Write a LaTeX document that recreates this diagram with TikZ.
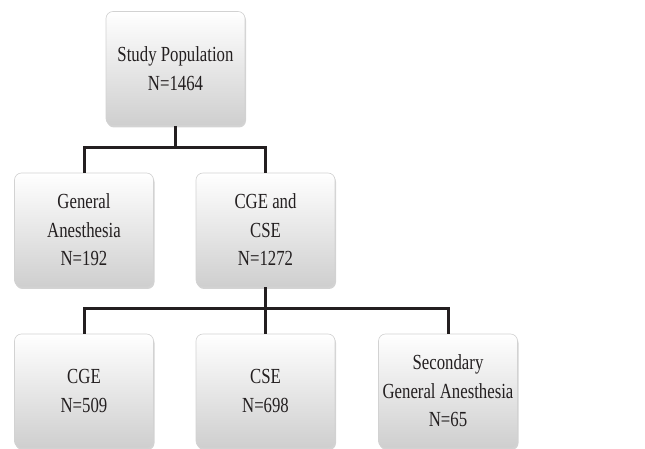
\documentclass[tikz,border=0pt]{standalone}
\usepackage{fontspec}
\setmainfont[FakeStretch=0.78]{Liberation Serif}
\usetikzlibrary{shadows}
\definecolor{linedark}{HTML}{231F20}
\tikzset{
  box/.style={rounded corners=7pt, draw=gray!35, line width=0.6pt,
    top color=white, bottom color=gray!38, minimum width=139pt, minimum height=114pt,
    align=center, text=linedark, font=\fontsize{21.5pt}{28.5pt}\selectfont, inner sep=0pt,
    drop shadow={shadow xshift=1pt, shadow yshift=-2pt, opacity=0.35, fill=gray}},
  conn/.style={draw=linedark, line width=3pt}
}
\begin{document}
\begin{tikzpicture}[x=1pt,y=1pt]
\useasboundingbox (0,0) rectangle (645,449);
\node[box] (pop) at (175.5,380.5) {Study Population\\N=1464};
\node[box] (ga) at (84,219) {General\\Anesthesia\\N=192};
\node[box] (cc) at (265.5,219) {CGE and\\CSE\\N=1272};
\node[box] (cge) at (84,58) {CGE\\N=509};
\node[box] (cse) at (265.5,58) {CSE\\N=698};
\node[box] (sga) at (448,58) {Secondary\\General Anesthesia\\N=65};
\coordinate (j1) at (175.5,301);
\coordinate (j2) at (265.5,140);
\draw[conn] (pop.south) -- (j1);
\draw[conn] (ga.north) |- (j1) -| (cc.north);
\draw[conn] (cc.south) -- (j2);
\draw[conn] (cge.north) |- (j2) -| (sga.north);
\draw[conn] (j2) -- (cse.north);
\end{tikzpicture}
\end{document}
